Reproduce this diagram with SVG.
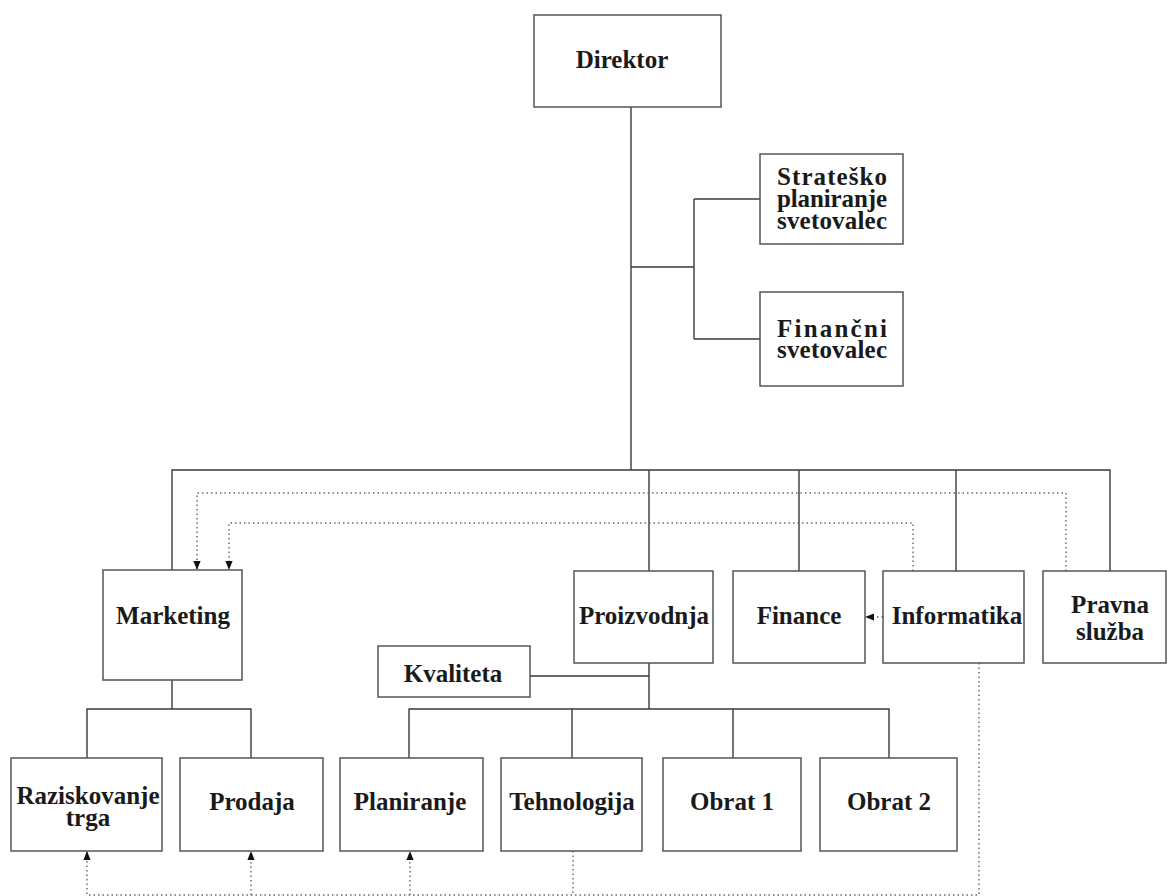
<svg xmlns="http://www.w3.org/2000/svg" width="1167" height="896" viewBox="0 0 1167 896">
<style>
.box{fill:#fff;stroke:#555;stroke-width:1.5}
.t{font-family:"Liberation Serif","Times New Roman",serif;font-weight:bold;font-size:25px;fill:#1a1a1a;text-anchor:middle}
.ts{font-family:"Liberation Serif","Times New Roman",serif;font-weight:bold;font-size:25px;fill:#1a1a1a}
.ln{fill:none;stroke:#3a3a3a;stroke-width:1.4}
.dt{fill:none;stroke:#666;stroke-width:1.4;stroke-dasharray:1.5 3}
</style>
<defs>
<marker id="ah" viewBox="0 0 10 8" markerWidth="9" markerHeight="11" refX="10" refY="4" orient="auto" markerUnits="userSpaceOnUse">
<path d="M0,0 L10,4 L0,8 z" fill="#111"/>
</marker>
</defs>
<rect width="1167" height="896" fill="#fff"/>
<g id="connectors">
<path class="ln" d="M631,107 V470"/>
<path class="ln" d="M631,267 H694 M694,199 V339 M694,199 H760 M694,339 H760"/>
<path class="ln" d="M172,570 V470 H1110 V571"/>
<path class="ln" d="M649,470 V571 M799,470 V571 M956,470 V571"/>
<path class="ln" d="M649,663 V709 M530,676 H649"/>
<path class="ln" d="M409,758 V709 H889 V758 M572,709 V758 M733,709 V758"/>
<path class="ln" d="M172,680 V709 M87,758 V709 H251 V758"/>
<path class="dt" d="M1066,571 V493 H197 V570" marker-end="url(#ah)"/>
<path class="dt" d="M913,571 V523 H229 V570" marker-end="url(#ah)"/>
<path class="dt" d="M883,617 H865" marker-end="url(#ah)"/>
<path class="dt" d="M979,663 V895 H87 V851" marker-end="url(#ah)"/>
<path class="dt" d="M251,895 V851" marker-end="url(#ah)"/>
<path class="dt" d="M410,895 V851" marker-end="url(#ah)"/>
<path class="dt" d="M573,851 V895"/>
</g>
<g id="direktor"><rect class="box" x="534" y="15" width="187" height="92"/><text class="t" x="622" y="68">Direktor</text></g>
<g id="strategic"><rect class="box" x="760" y="154" width="143" height="90"/>
<text class="ts" x="777" y="185" textLength="110" lengthAdjust="spacing">Strateško</text>
<text class="ts" x="777" y="207" textLength="110" lengthAdjust="spacing">planiranje</text>
<text class="ts" x="777" y="229" textLength="110" lengthAdjust="spacing">svetovalec</text></g>
<g id="financni"><rect class="box" x="760" y="292" width="143" height="94"/>
<text class="ts" x="777" y="337" textLength="110" lengthAdjust="spacing">Finančni</text>
<text class="ts" x="777" y="358" textLength="110" lengthAdjust="spacing">svetovalec</text></g>
<g id="marketing"><rect class="box" x="103" y="570" width="139" height="110"/><text class="t" x="173" y="624">Marketing</text></g>
<g id="proizvodnja"><rect class="box" x="574" y="571" width="139" height="92"/><text class="t" x="644" y="624">Proizvodnja</text></g>
<g id="finance"><rect class="box" x="733" y="571" width="132" height="92"/><text class="t" x="799" y="624">Finance</text></g>
<g id="informatika"><rect class="box" x="883" y="571" width="141" height="92"/><text class="t" x="957" y="624">Informatika</text></g>
<g id="pravna"><rect class="box" x="1043" y="571" width="123" height="92"/><text class="t" x="1110" y="613">Pravna</text><text class="t" x="1110" y="640">služba</text></g>
<g id="kvaliteta"><rect class="box" x="378" y="646" width="152" height="51"/><text class="t" x="453" y="682">Kvaliteta</text></g>
<g id="raziskovanje"><rect class="box" x="11" y="758" width="151" height="93"/><text class="t" x="88" y="804">Raziskovanje</text><text class="t" x="88" y="826">trga</text></g>
<g id="prodaja"><rect class="box" x="180" y="758" width="143" height="93"/><text class="t" x="252" y="810">Prodaja</text></g>
<g id="planiranje"><rect class="box" x="340" y="758" width="143" height="93"/><text class="t" x="410" y="810">Planiranje</text></g>
<g id="tehnologija"><rect class="box" x="501" y="758" width="141" height="93"/><text class="t" x="572" y="810">Tehnologija</text></g>
<g id="obrat1"><rect class="box" x="663" y="758" width="138" height="93"/><text class="t" x="732" y="810">Obrat 1</text></g>
<g id="obrat2"><rect class="box" x="820" y="758" width="137" height="93"/><text class="t" x="889" y="810">Obrat 2</text></g>
</svg>
